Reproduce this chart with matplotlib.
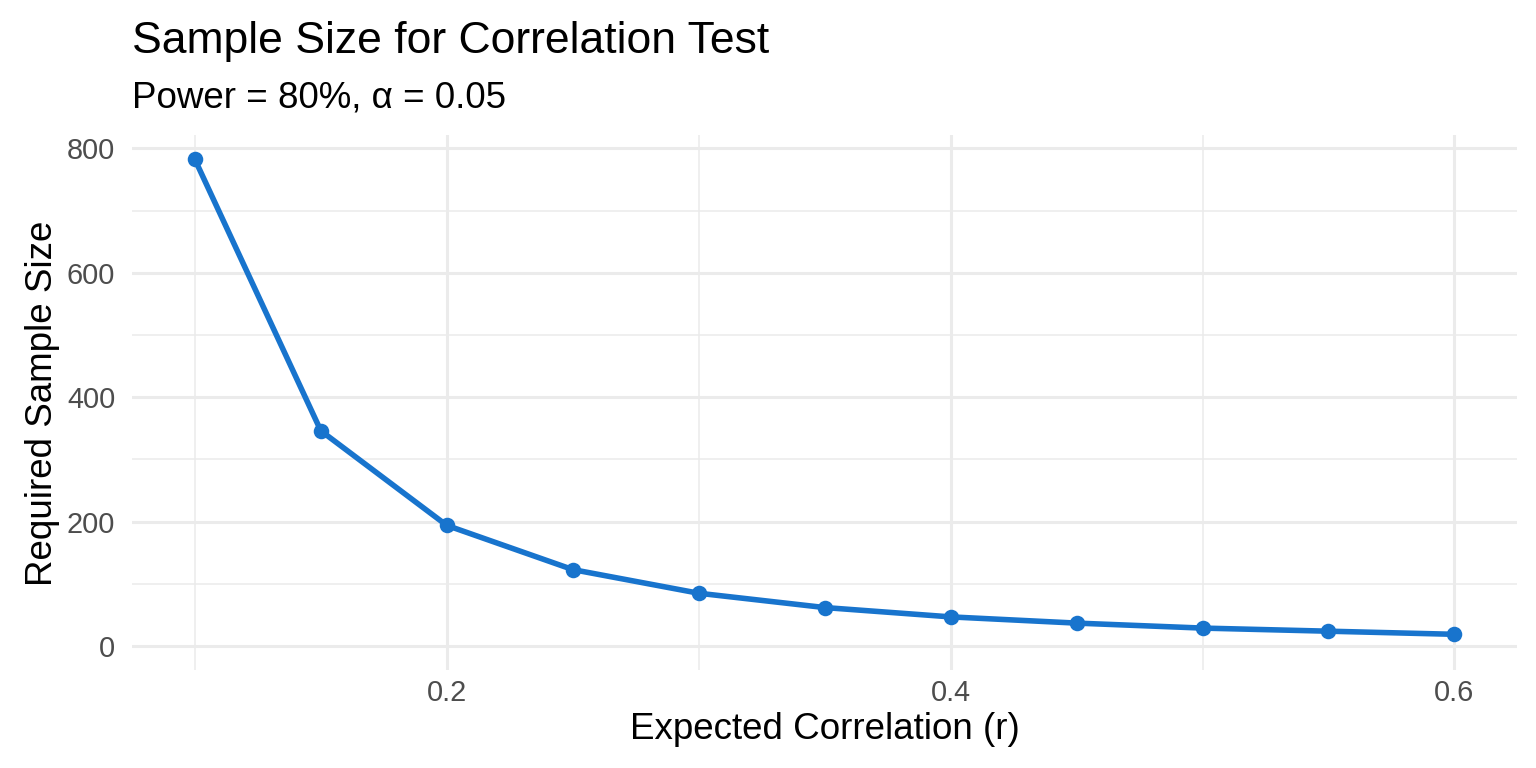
import matplotlib
matplotlib.use("Agg")
import matplotlib.pyplot as plt
from matplotlib.ticker import MultipleLocator

plt.rcParams['font.family'] = ['Liberation Sans', 'DejaVu Sans']

r_values = [0.10, 0.15, 0.20, 0.25, 0.30, 0.35, 0.40, 0.45, 0.50, 0.55, 0.60]
sample_sizes = [782, 346, 194, 123, 85, 62, 47, 37, 29, 24, 19]
x_ticks = [0.2, 0.4, 0.6]
y_ticks = [0, 200, 400, 600, 800]

fig = plt.figure(figsize=(15.36, 7.68), dpi=100)
ax = fig.add_axes([0.0859, 0.127, 0.902, 0.697])
color = "#1874CD"
ax.plot(r_values, sample_sizes, color=color, lw=4.0, zorder=3)
ax.scatter(r_values, sample_sizes, color=color, s=125, zorder=4, linewidths=0)

ax.set_xlim(0.075, 0.625)
ax.set_ylim(-39.1, 821.1)
ax.set_xticks(x_ticks)
ax.set_xticklabels([f"{v:.1f}" for v in x_ticks])
ax.set_yticks(y_ticks)
ax.xaxis.set_minor_locator(MultipleLocator(0.1))
ax.yaxis.set_minor_locator(MultipleLocator(100))
ax.grid(which='major', color='#EBEBEB', lw=2.2)
ax.grid(which='minor', color='#EBEBEB', lw=1.1)
ax.set_axisbelow(True)
for s in ax.spines.values():
    s.set_visible(False)
ax.tick_params(which='both', length=0)
ax.tick_params(axis='both', labelsize=20.8, labelcolor='#4D4D4D')
ax.tick_params(axis='y', pad=12)
ax.tick_params(axis='x', pad=6)

ax.set_xlabel("Expected Correlation (r)", fontsize=26.5, labelpad=4)
ax.set_ylabel("Required Sample Size", fontsize=26.5, labelpad=5)

fig.text(0.0859, 0.931, "Sample Size for Correlation Test", fontsize=32, ha='left', va='baseline')
fig.text(0.0859, 0.860, "Power = 80%, α = 0.05", fontsize=26.5, ha='left', va='baseline')

fig.savefig("out.png", dpi=100, facecolor='white')
